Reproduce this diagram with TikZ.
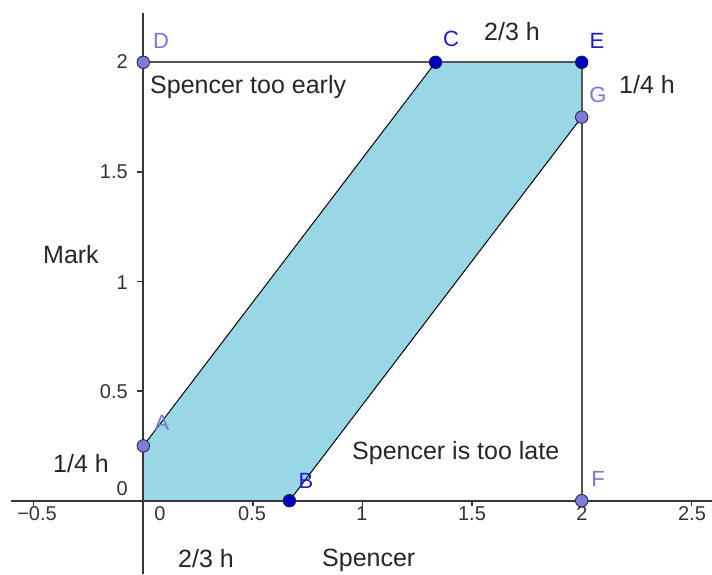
\documentclass[tikz,border=0pt]{standalone}
\usepackage{fontspec}
\setmainfont{Liberation Sans}
\definecolor{regionfill}{RGB}{153,214,230}
\definecolor{axisgray}{RGB}{55,55,55}
\definecolor{linegray}{RGB}{85,85,85}
\definecolor{darkpt}{RGB}{0,0,190}
\definecolor{darkptlbl}{RGB}{30,30,200}
\definecolor{lightpt}{RGB}{125,125,215}
\definecolor{lightptlbl}{RGB}{120,120,220}
\definecolor{ptedge}{RGB}{30,30,70}
\tikzset{
  txt/.style={font=\fontsize{25}{29}\selectfont, text=black!85, inner sep=0pt},
  ticklbl/.style={font=\fontsize{20}{24}\selectfont, text=black!80, inner sep=0pt},
  ptlbl/.style={font=\fontsize{22}{26}\selectfont, inner sep=0pt},
  darkdot/.style={circle, fill=darkpt, draw=ptedge, line width=0.8pt, minimum size=12.5pt, inner sep=0pt},
  lightdot/.style={circle, fill=lightpt, draw=ptedge, line width=0.8pt, minimum size=12.5pt, inner sep=0pt},
  axisline/.style={draw=axisgray, line width=2pt},
  tickmark/.style={draw=axisgray, line width=1.6pt},
  edge/.style={draw=black, line width=1pt},
}
\begin{document}
\begin{tikzpicture}[x=219.2pt, y=219.2pt]
\useasboundingbox[fill=white] (-143.3pt,-73.3pt) rectangle (568.7pt,500.7pt);
% key points
\coordinate (O) at (0,0);
\coordinate (A) at (0,0.25);
\coordinate (B) at (2/3,0);
\coordinate (C) at (4/3,2);
\coordinate (D) at (0,2);
\coordinate (E) at (2,2);
\coordinate (F) at (2,0);
\coordinate (G) at (2,1.75);
% filled region
\fill[regionfill] (O) -- (B) -- (G) -- (E) -- (C) -- (A) -- cycle;
% axes
\coordinate (xl) at (-132.3pt,0);
\coordinate (xr) at (568.7pt,0);
\coordinate (yb) at (0,-73.3pt);
\coordinate (yt) at (0,487.7pt);
\draw[axisline] (xl) -- (xr);
\draw[axisline] (yb) -- (yt);
% ticks
\foreach \t in {-0.5,0.5,1,1.5,2,2.5} {
  \draw[tickmark] (\t,0) -- ++(0,-5pt);
}
\foreach \t in {0.5,1,1.5,2} {
  \draw[tickmark] (0,\t) -- ++(-6pt,0);
}
% lines
\draw[draw=linegray, line width=2pt] (D) -- (E);
\draw[draw=linegray, line width=2pt] (F) -- (E);
\draw[edge] (A) -- (C);
\draw[edge] (B) -- (G);
% tick labels
\node[ticklbl] (xm05) at (-106.3pt,-13.3pt) {−0.5};
\node[ticklbl] (x0) at (16.7pt,-13.3pt) {0};
\node[ticklbl] (x05) at (108.7pt,-13.3pt) {0.5};
\node[ticklbl] (x1) at (218.7pt,-13.3pt) {1};
\node[ticklbl] (x15) at (328.7pt,-13.3pt) {1.5};
\node[ticklbl] (x2) at (438.7pt,-13.3pt) {2};
\node[ticklbl] (x25) at (548.7pt,-13.3pt) {2.5};
\node[ticklbl, anchor=east] (y2) at (-15.3pt,438.7pt) {2};
\node[ticklbl, anchor=east] (y15) at (-15.3pt,328.7pt) {1.5};
\node[ticklbl, anchor=east] (y1) at (-15.3pt,217.7pt) {1};
\node[ticklbl, anchor=east] (y05) at (-15.3pt,108.7pt) {0.5};
\node[ticklbl, anchor=east] (y0) at (-15.3pt,11.7pt) {0};
% texts
\node[txt, anchor=base west] (early) at (6.7pt,406.7pt) {Spencer too early};
\node[txt, anchor=base west] (mark) at (-100.3pt,237.7pt) {Mark};
\node[txt, anchor=base west] (late) at (208.7pt,41.7pt) {Spencer is too late};
\node[txt, anchor=base west] (spencer) at (178.7pt,-65.3pt) {Spencer};
\node[txt, anchor=base west] (twothirdsb) at (34.7pt,-66.3pt) {2/3 h};
\node[txt, anchor=base west] (quarterl) at (-90.3pt,28pt) {1/4 h};
\node[txt, anchor=base west] (twothirdst) at (340.7pt,459.7pt) {2/3 h};
\node[txt, anchor=base west] (quarterr) at (475.7pt,406.7pt) {1/4 h};
% points
\node[lightdot] (Dp) at (D) {};
\node[lightdot] (Ap) at (A) {};
\node[lightdot] (Gp) at (G) {};
\node[lightdot] (Fp) at (F) {};
\node[darkdot] (Cp) at (C) {};
\node[darkdot] (Ep) at (E) {};
\node[darkdot] (Bp) at (B) {};
% point labels
\node[ptlbl, text=lightptlbl] (Dl) at (17.7pt,459.7pt) {D};
\node[ptlbl, text=darkptlbl] (Cl) at (307.7pt,461.7pt) {C};
\node[ptlbl, text=darkptlbl] (El) at (453.7pt,459.7pt) {E};
\node[ptlbl, text=lightptlbl] (Gl) at (454.7pt,405.7pt) {G};
\node[ptlbl, text=lightptlbl] (Al) at (18.7pt,77.7pt) {A};
\node[ptlbl, text=darkptlbl] (Bl) at (162.7pt,19.7pt) {B};
\node[ptlbl, text=lightptlbl] (Fl) at (454.7pt,21.7pt) {F};
\end{tikzpicture}
\end{document}
